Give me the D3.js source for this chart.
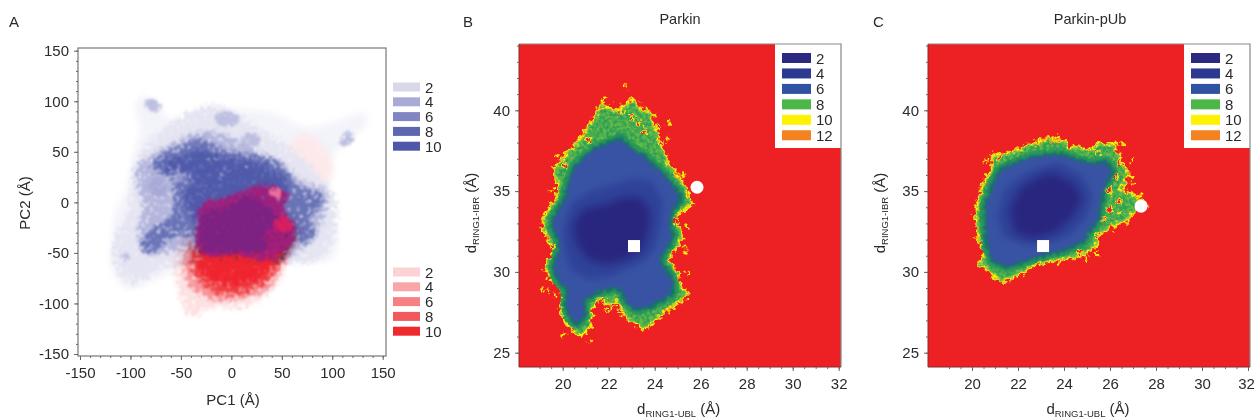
<!DOCTYPE html>
<html><head><meta charset="utf-8">
<script src="https://cdnjs.cloudflare.com/ajax/libs/d3/7.8.5/d3.min.js"></script>
<style>html,body{margin:0;background:#fff}text{font-family:"Liberation Sans",Arial,sans-serif;fill:#2b2b2b}</style>
</head><body><svg id="c" width="1255" height="420"></svg>
<script>
// ---------- Panel A data (PC1, PC2 in Å)
const axisTicksA=[-150,-100,-50,0,50,100,150];
const legendLevelsA=[2,4,6,8,10];
const legendBlue=["#d8d8ea","#aaaad6","#8186c2","#5f66b0","#4f58a8"];
const legendRed=["#fcd2d4","#f9a6a8","#f58185","#f0595d","#ee2a2e"];
const blueEnvelope=[[-90,105],[-75,100],[-65,85],[-40,80],[-20,95],[0,92],[30,90],[50,85],[70,75],[85,75],[105,80],[130,88],[135,80],[115,60],[100,45],[95,20],[95,-10],[105,-30],[100,-55],[75,-58],[55,-55],[40,-40],[-10,-60],[-40,-60],[-60,-70],[-85,-80],[-105,-85],[-120,-60],[-118,-40],[-115,-10],[-105,10],[-100,30],[-95,55],[-90,70],[-95,95]];
const blueLevel2=[[-98,-8],[-98,15],[-91,45],[-71,68],[-25,94],[2,88],[31,68],[55,55],[101,5],[101,-31],[88,-55],[35,-58],[-18,-58],[-65,-61],[-98,-81],[-114,-61],[-114,-31],[-98,-12]];
const blueIslands=[[[-85,103],[-75,100],[-68,92],[-78,90],[-85,95]],[[-15,88],[0,88],[10,83],[0,76],[-14,78]],[[10,65],[25,68],[28,58],[12,55]],[[107,58],[115,70],[122,65],[112,55]],[[-108,-52],[-102,-48],[-103,-58],[-108,-58]]];
const blueLevel3=[[-94,35],[-74,48],[-51,61],[-35,68],[-12,68],[8,58],[35,45],[55,35],[68,21],[94,11],[93,-5],[83,-31],[61,-51],[2,-61],[-45,-45],[-84,-51],[-91,-28],[-88,-12],[-85,2],[-92,12],[-93,28]];
const blueLevel4=[[-78,41],[-45,56],[-31,63],[-15,53],[15,47],[45,40],[58,23],[68,13],[90,7],[88,-5],[72,-15],[84,-28],[70,-40],[58,-30],[53,-53],[2,-56],[-25,-53],[-38,-33],[-53,-30],[-83,-50],[-90,-38],[-76,-26],[-57,-13],[-55,8],[-58,18],[-55,29],[-75,29]];
const blueLevel5=[[-71,38],[-45,45],[-31,51],[-15,45],[8,41],[35,35],[51,25],[53,5],[35,-10],[-35,-20],[-42,-4],[-48,8],[-38,18],[-32,28],[-45,31],[-68,31]];
const blueLightSpots=[[[-62,34],[-50,36],[-46,24],[-58,20]],[[-12,32],[2,32],[4,22],[-10,20]],[[-80,22],[-68,24],[-66,6],[-78,8]]];
const pinkPatch=[[55,51],[71,68],[91,55],[101,31],[88,15],[68,21]];
const redEnvelope=[[-45,-35],[-55,-64],[-50,-91],[-41,-114],[-18,-101],[8,-104],[38,-88],[55,-58],[68,-25],[58,-12]];
const redLevel2=[[-38,-41],[-47,-64],[-37,-86],[-15,-96],[15,-93],[38,-84],[53,-55],[63,-31]];
const redLevel3=[[-37,-48],[-36,-70],[-16,-88],[10,-90],[34,-78],[48,-58],[58,-28]];
const redCore=[[-33,-60],[-20,-76],[5,-82],[25,-76],[40,-62],[50,-45],[2,-51],[-25,-48]];
const magentaZone=[[-33,-31],[-30,-3],[-5,4],[8,10],[35,17],[57,7],[50,-8],[63,-25],[53,-47],[33,-57],[2,-50],[-18,-53],[-33,-47]];
const purpleCore=[[-30,-28],[-27,-10],[-2,-6],[12,7],[31,-3],[47,-15],[30,-31],[37,-47],[2,-47],[-15,-50],[-30,-43]];
const rosePatch=[[38,14],[50,12],[50,4],[42,4]];
const roseRight=[[41,-12],[58,-18],[58,-28],[45,-28]];

// ---------- Panels B and C data (d_RING1-UBL, d_RING1-IBR in Å)
const ticksBX=[20,22,24,26,28,30,32];
const ticksBY=[25,30,35,40];
const legendLevelsB=[2,4,6,8,10,12];
const legendColoursB=["#2b2a80","#2b3990","#3052a3","#4cb748","#fff200","#f58220"];
const parkinOuter=[[23.0,40.61],[23.29,40.2],[23.43,39.89],[23.8,39.89],[23.87,39.17],[24.09,38.45],[24.16,37.94],[24.45,37.21],[24.52,36.7],[24.81,36.29],[24.96,35.88],[25.32,35.26],[25.39,34.64],[25.61,34.23],[25.25,33.92],[24.88,33.61],[24.96,32.79],[25.17,32.37],[25.03,31.65],[24.52,31.03],[24.67,30.52],[24.96,29.9],[25.03,29.28],[25.39,28.56],[25.1,28.25],[24.67,27.84],[24.09,27.12],[23.51,26.5],[23.29,26.71],[22.71,27.33],[22.42,28.46],[22.06,28.05],[21.48,28.46],[21.19,27.63],[21.19,26.71],[20.83,26.09],[20.54,26.3],[20.17,26.91],[19.96,27.84],[20.1,28.87],[19.52,29.7],[19.3,30.21],[19.67,31.14],[19.52,31.76],[19.16,32.79],[19.23,33.4],[19.74,34.43],[19.88,35.46],[19.67,36.08],[19.67,36.39],[20.17,37.21],[20.83,38.24],[21.33,39.38],[21.7,40.3],[22.2,39.89],[22.64,40.1]];
const parkinBlue=[[22.49,38.35],[22.93,37.73],[23.51,37.21],[24.09,36.49],[24.52,35.88],[25.1,34.85],[25.1,34.33],[24.81,33.92],[24.67,32.99],[24.81,32.17],[24.52,31.34],[24.23,30.73],[24.52,30.11],[24.81,29.49],[24.81,28.66],[24.38,28.25],[23.8,27.84],[23.22,27.63],[22.78,28.05],[22.49,28.87],[22.06,28.97],[21.48,28.66],[20.97,28.25],[20.97,27.22],[20.61,26.71],[20.25,27.22],[20.1,28.05],[20.17,28.87],[19.67,29.7],[19.59,30.42],[19.81,31.34],[19.81,31.96],[19.52,32.79],[19.59,33.4],[20.1,34.64],[20.25,35.67],[20.54,36.6],[21.33,37.63],[21.91,37.94]];
const parkinLevel4=[[23.07,35.8],[23.9,35.6],[24.35,34.4],[24.25,32.79],[24.0,31.4],[23.51,30.63],[22.78,30.2],[22.06,29.7],[21.19,29.5],[20.36,30.11],[20.07,31.34],[20.0,32.58],[20.36,34.22],[21.19,35.04],[22.06,35.35]];
const parkinLevel2=[[23.36,34.63],[23.82,33.81],[23.75,32.58],[23.46,31.35],[22.74,30.73],[21.91,30.42],[21.09,30.73],[20.58,31.76],[20.44,33.0],[20.94,33.91],[21.91,34.22],[22.64,34.63]];
const parkinSpecks=[[22.74,41.44],[21.77,40.61],[22.06,40.24],[21.7,40.0],[21.33,39.42],[24.59,39.21],[24.59,38.24],[19.78,37.21],[25.25,35.98],[24.96,35.98],[19.52,35.05],[19.52,34.23],[19.23,32.17],[25.39,32.79],[25.32,31.55],[25.36,31.18],[25.42,29.94],[19.13,28.91],[19.35,28.77],[19.67,28.56],[21.19,25.74],[20.07,26.15],[25.14,28.15],[24.59,27.74],[24.45,27.53]];
const parkinHoles=[[23.29,39.27],[23.58,38.76],[22.2,27.94],[21.77,28.15],[22.49,27.63],[21.91,27.63],[19.59,31.55],[21.12,38.14],[24.96,33.09],[23.0,39.6],[22.5,39.9],[20.1,36.6],[24.2,39.0],[24.3,37.9]];
const parkinSquare=[23.1,31.6], parkinCircle=[25.84,35.24];
const pubOuter=[[23.24,38.2],[24.04,38.0],[24.18,37.69],[25.27,37.48],[25.42,37.89],[26.14,37.79],[26.43,36.86],[26.72,36.14],[26.58,35.53],[26.36,35.01],[27.01,34.7],[27.59,34.04],[26.94,33.77],[26.72,33.26],[26.0,32.85],[25.49,32.33],[25.27,31.51],[24.84,31.1],[23.82,30.79],[22.81,30.58],[22.01,29.86],[21.29,29.45],[20.63,30.27],[20.34,30.58],[20.63,31.0],[20.27,32.44],[20.2,33.47],[20.34,34.5],[20.49,35.32],[20.92,36.35],[20.92,37.17],[21.79,37.38],[22.3,37.69]];
const pubBlue=[[23.97,37.28],[24.55,36.97],[25.13,36.76],[25.85,36.86],[26.14,36.14],[25.78,35.22],[25.63,34.29],[25.56,33.26],[25.2,32.64],[24.84,31.82],[23.97,31.3],[23.1,31.0],[22.37,30.68],[21.5,30.27],[20.85,30.68],[20.63,31.61],[20.56,33.05],[20.56,34.08],[20.85,35.32],[21.21,36.35],[22.37,37.07],[23.24,37.28]];
const pubLevel4=[[23.82,36.76],[24.79,35.93],[25.23,34.7],[24.94,33.27],[24.21,32.24],[23.24,31.72],[22.23,31.72],[21.33,32.24],[21.11,33.47],[21.4,35.11],[22.37,36.14],[23.17,36.55]];
const pubLevel2=[[23.53,36.14],[24.5,35.42],[24.79,34.5],[24.36,33.37],[23.63,32.44],[22.66,32.03],[21.84,32.44],[21.62,33.88],[22.13,35.21],[22.95,35.93]];
const pubSpecks=[[20.63,36.86],[23.31,38.31],[23.71,38.31],[23.17,38.06],[23.53,38.06],[22.88,37.89],[26.24,37.89],[26.53,37.89],[26.97,36.86],[26.65,36.45],[26.72,35.94],[26.9,35.9],[26.94,35.48],[27.3,34.7],[26.14,32.44],[25.42,31.1],[24.98,30.79],[23.78,30.62],[20.17,32.02]];
const pubHoles=[[26.43,36.76],[26.24,35.9],[25.97,35.01],[26.43,34.39],[25.97,33.88],[26.36,33.67],[25.71,33.26],[25.42,32.23],[24.69,31.2],[25.42,37.48],[21.21,37.07]];
const pubSquare=[23.09,31.6], pubCircle=[27.35,34.07];

const svg=d3.select("#c");
const defs=svg.append("defs");
function newFilter(id,m){return defs.append("filter").attr("id",id).attr("color-interpolation-filters","sRGB").attr("x",-m).attr("y",-m).attr("width",1+2*m).attr("height",1+2*m);}
function blur(id,sd){newFilter(id,.3).append("feGaussianBlur").attr("stdDeviation",sd);}
blur("soft",0.45);blur("b1",1.2);blur("b3",3);blur("b5",4);
function rough(id,freq,scale,sd,seed){const f=newFilter(id,.15);
  f.append("feTurbulence").attr("type","fractalNoise").attr("baseFrequency",freq).attr("numOctaves",2).attr("seed",seed).attr("result","n");
  f.append("feDisplacementMap").attr("in","SourceGraphic").attr("in2","n").attr("scale",scale).attr("xChannelSelector","R").attr("yChannelSelector","G").attr("result","d");
  f.append("feGaussianBlur").attr("in","d").attr("stdDeviation",sd);}
rough("edge",0.22,11,0.45,4);rough("grain",0.3,9,1.0,4);
// dithered edge: a soft shape multiplied by contrast-stretched noise and thresholded
let dn=0;
function dither(color,sd,freq,seed,finish,k1,slope,contrast){const id="dth"+(dn++);const f=newFilter(id,.3);
  k1=k1||2.4;slope=slope||2.6;contrast=contrast||1;
  f.append("feTurbulence").attr("type","fractalNoise").attr("baseFrequency",freq).attr("numOctaves",2).attr("seed",seed).attr("result","n");
  f.append("feColorMatrix").attr("in","n").attr("values",`0 0 0 0 0  0 0 0 0 0  0 0 0 0 0  ${contrast} 0 0 0 ${.5-contrast/2}`).attr("result","na");
  f.append("feGaussianBlur").attr("in","SourceAlpha").attr("stdDeviation",sd).attr("result","sa");
  f.append("feComposite").attr("in","sa").attr("in2","na").attr("operator","arithmetic").attr("k1",k1).attr("k2",0).attr("k3",0).attr("k4",0).attr("result","mix");
  const t=f.append("feComponentTransfer").attr("in","mix").attr("result","mask");t.append("feFuncA").attr("type","linear").attr("slope",slope).attr("intercept",.5-slope/2);
  f.append("feFlood").attr("flood-color",color).attr("result","fl");
  f.append("feComposite").attr("in","fl").attr("in2","mask").attr("operator","in").attr("result","c");
  f.append("feGaussianBlur").attr("in","c").attr("stdDeviation",finish);
  return id;}

const root=svg.append("g").attr("filter","url(#soft)");
const hy=v=>String(v);
function axes(g,x,y,xT,yT,xM,yM,b,l,sz){
  const ax=g.append("g").attr("transform",`translate(0,${b})`);
  ax.call(d3.axisBottom(x).tickValues(xM).tickSize(2).tickFormat(""));
  const ax2=g.append("g").attr("transform",`translate(0,${b})`).call(d3.axisBottom(x).tickValues(xT).tickSize(4).tickPadding(7).tickFormat(hy));
  const ay=g.append("g").attr("transform",`translate(${l},0)`).call(d3.axisLeft(y).tickValues(yM).tickSize(2).tickFormat(""));
  const ay2=g.append("g").attr("transform",`translate(${l},0)`).call(d3.axisLeft(y).tickValues(yT).tickSize(4).tickPadding(5).tickFormat(hy));
  [ax,ax2,ay,ay2].forEach(s=>{s.select(".domain").remove();s.selectAll("line").attr("stroke","#666");s.selectAll("text").attr("font-size",sz).attr("font-family","Liberation Sans").attr("fill","#2b2b2b");});
  return ax2;
}
function txt(x,y,s,size,anchor,rot){const t=root.append("text").attr("x",x).attr("y",y).attr("font-size",size).attr("text-anchor",anchor||"start").text(s);
  if(rot)t.attr("transform",`rotate(-90,${x},${y})`);return t;}

// ---- Panel A
{
  const x=d3.scaleLinear([-150,150],[80,382.7]),y=d3.scaleLinear([-150,150],[354,50.7]);
  const line=d3.line(d=>x(d[0]),d=>y(d[1])).curve(d3.curveCatmullRomClosed);
  const g=root.append("g");
  g.append("rect").attr("x",78).attr("y",48).attr("width",308).attr("height",308).attr("fill","#fff").attr("stroke","#777").attr("stroke-width",1.2);
  defs.append("clipPath").attr("id","ca").append("rect").attr("x",79).attr("y",49).attr("width",306).attr("height",306);
  const p=g.append("g").attr("clip-path","url(#ca)");
  const draw=(d,c,f)=>p.append("path").attr("d",line(d)).attr("fill",c).attr("filter",`url(#${f})`);
  const dth=(d,c,sd,seed,con)=>draw(d,c,dither(c,sd||5,0.26,seed||3,0.9,2.4,2.6,con||1.7));
  draw(blueEnvelope,"#f3f3fa","b3");
  draw(pinkPatch,"#fde9ea","b3");
  dth(blueLevel2,"#e4e4f2",8,11,1.3);
  blueIslands.forEach((d,i)=>dth(d,"#bdbfe0",3,20+i,1.3));
  dth(blueLevel3,"#b3b5dc",6,5,1.8);
  dth(blueLevel4,"#6872b6",6,8,1.8);
  blueLightSpots.forEach((d,i)=>dth(d,"#a6a9d6",3,30+i));
  dth(blueLevel5,"#4f5aaa",6,13,1.8);
  dth(redEnvelope,"#fde0e1",7,14,1.4).style("mix-blend-mode","multiply");
  dth(redLevel2,"#f9a6aa",6,15,1.7).style("mix-blend-mode","multiply");
  dth(redLevel3,"#f6686c",6,16,1.8).style("mix-blend-mode","multiply");
  dth(redCore,"#f0242f",5,17,1.5);
  dth(magentaZone,"#a01f7c",5,18,1.4);
  dth(roseRight,"#d81f60",3,19,1.5);
  dth(rosePatch,"#e8709a",2.5,27,1.5);
  dth(purpleCore,"#7b2283",5,24,1.4);
  axes(g,x,y,axisTicksA,axisTicksA,d3.range(-150,151,10),d3.range(-150,151,10),356,78,15);
  txt(9,27,"A",15);
  txt(233,405,"PC1 (Å)",15,"middle");
  txt(30,203,"PC2 (Å)",15,"middle",true);
  const leg=(cols,y0)=>legendLevelsA.forEach((v,i)=>{
    root.append("rect").attr("x",393).attr("y",y0+i*14.8-4.5).attr("width",27).attr("height",9).attr("fill",cols[i]);
    txt(425,y0+i*14.8+5.5,v,15);
  });
  leg(legendBlue,87);leg(legendRed,272);
}
// ---- Panels B, C
function panel(L,R,oX,title,letter,letterX,titleX,outer,blue,l4,l2,specks,holes,sq,ci){
  const x=d3.scaleLinear([20,32],[oX,oX+276]),y=d3.scaleLinear([25,40],[352.7,110.3]);
  const line=d3.line(d=>x(d[0]),d=>y(d[1])).curve(d3.curveLinearClosed);
  const g=root.append("g");
  g.append("rect").attr("x",L).attr("y",44).attr("width",R-L).attr("height",323).attr("fill","#ed2024");
  const rs=g.append("g").attr("filter","url(#edge)");
  const path=(par,d,fill,stroke,sw)=>par.append("path").attr("d",line(d)).attr("fill",fill).attr("stroke",stroke).attr("stroke-width",sw).attr("stroke-linejoin","round");
  path(rs,outer,"none","#f58220",5.4);
  path(rs,outer,"none","#fff200",3.8);
  path(rs,outer,"#62bb46","#a6ce39",1.6);
  path(g,outer,"#2f9e58","none",0).attr("fill-opacity",.42).attr("filter",`url(#${dither("#2f9e58",1.6,0.3,12,0.5,2.4,3)})`);
  path(g,blue,"#2f9e58","#2f9e58",9).attr("filter",`url(#${dither("#2a9a58",2.2,0.3,6,0.6,2.4,3)})`);
  rs.append("g").selectAll("circle").data(specks).join("circle").attr("cx",d=>x(d[0])).attr("cy",d=>y(d[1])).attr("r",2).attr("fill","#fff200").attr("stroke","#f58220").attr("stroke-width",.7);
  const hs=g.append("g").attr("filter","url(#edge)");
  hs.selectAll("circle").data(holes).join("circle").attr("cx",d=>x(d[0])).attr("cy",d=>y(d[1])).attr("r",2.3).attr("fill","#ed2024").attr("stroke","#e6e621").attr("stroke-width",1.3);
  path(g,blue,"#3953a4","#17716a",3).attr("filter","url(#grain)");
  path(g,l4,"#2f4399","none",0).attr("filter","url(#b3)");
  path(g,l2,"#29267f","none",0).attr("filter","url(#b5)");
  const s=12;
  g.append("rect").attr("x",x(sq[0])-s/2).attr("y",y(sq[1])-s/2).attr("width",s).attr("height",s).attr("fill","#fff");
  g.append("circle").attr("cx",x(ci[0])).attr("cy",y(ci[1])).attr("r",6.5).attr("fill","#fff");
  // legend
  const lx=R-66;
  g.append("rect").attr("x",lx).attr("y",44).attr("width",66).attr("height",104).attr("fill","#fff");
  legendLevelsB.forEach((v,i)=>{
    g.append("rect").attr("x",lx+7).attr("y",53+i*15.45).attr("width",29).attr("height",10).attr("fill",legendColoursB[i]);
    txt(lx+41,63.5+i*15.45,v,15);
  });
  g.append("path").attr("d",`M${L},44H${R}V367`).attr("fill","none").attr("stroke","#888").attr("stroke-width",1.2);
  g.append("path").attr("d",`M${L},44V367H${R}`).attr("fill","none").attr("stroke","#8a2a2a").attr("stroke-width",1);
  const ax=axes(g,x,y,ticksBX,ticksBY,d3.range(19,32.1,.5),d3.range(25,44.1,1),367,L,15);
  ax.selectAll("text").filter(d=>x(d)+9>1255).attr("dx",-2);
  txt(letterX,27,letter,15);
  txt(titleX,24,title,14.5,"middle");
  const xl=txt(oX+116,414,"d",15,"middle");
  xl.append("tspan").attr("font-size",9.5).attr("dy",3).text("RING1-UBL");
  xl.append("tspan").attr("dy",-3).text(" (Å)");
  const yl=txt(L-43,213,"d",15,"middle",true);
  yl.append("tspan").attr("font-size",9.5).attr("dy",3).text("RING1-IBR");
  yl.append("tspan").attr("dy",-3).text(" (Å)");
}
panel(519,841,562.7,"Parkin","B",463,680,parkinOuter,parkinBlue,parkinLevel4,parkinLevel2,parkinSpecks,parkinHoles,parkinSquare,parkinCircle);
panel(928,1250,972,"Parkin-pUb","C",873,1090,pubOuter,pubBlue,pubLevel4,pubLevel2,pubSpecks,pubHoles,pubSquare,pubCircle);
</script></body></html>
